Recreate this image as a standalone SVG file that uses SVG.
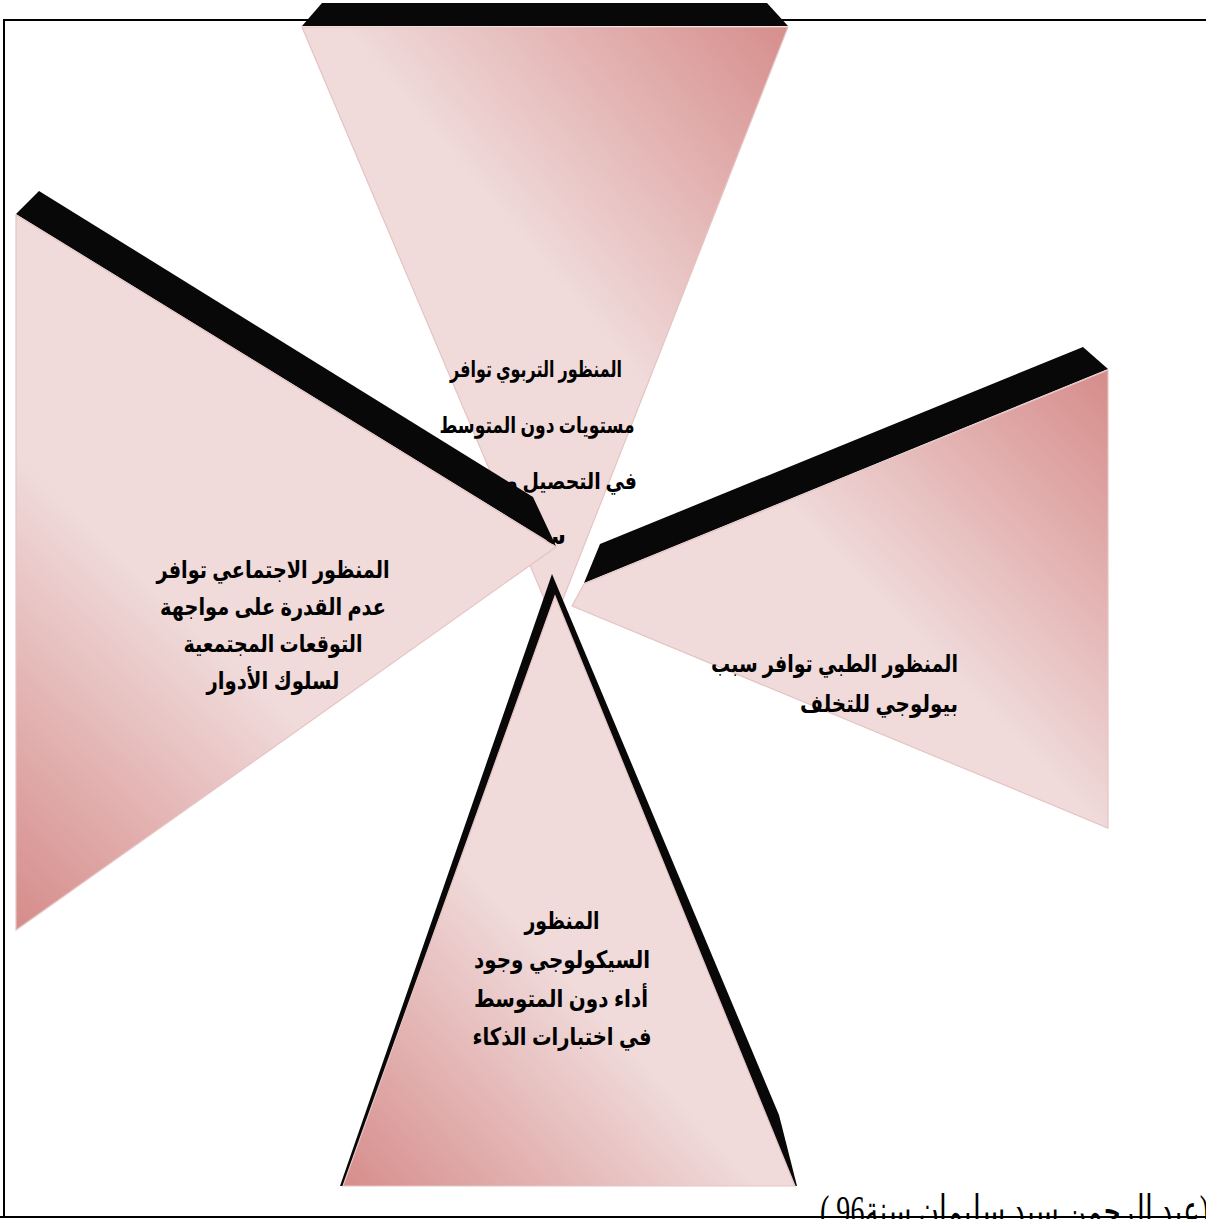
<svg xmlns="http://www.w3.org/2000/svg" width="1206" height="1219" viewBox="0 0 1206 1219">
<style>
.bar{fill:#080808}
.pk{stroke:#e6c3c3;stroke-width:1.2}
.t{font-family:"Liberation Sans","DejaVu Sans",sans-serif;font-weight:bold;font-size:24px;fill:#000}
.ts{font-family:"Liberation Serif","DejaVu Sans",serif;font-weight:bold;font-size:23px;fill:#000}
.cap{font-family:"Liberation Serif","DejaVu Sans",serif;font-size:44px;fill:#000}
</style>
<defs>
<linearGradient id="gTop" gradientUnits="userSpaceOnUse" x1="540" y1="260" x2="800" y2="40">
<stop offset="0" stop-color="#f0dada"/><stop offset="1" stop-color="#d68e8c"/>
</linearGradient>
<linearGradient id="gLeft" gradientUnits="userSpaceOnUse" x1="20" y1="920" x2="250" y2="680">
<stop offset="0" stop-color="#d68e8c"/><stop offset="1" stop-color="#f0dada"/>
</linearGradient>
<linearGradient id="gRight" gradientUnits="userSpaceOnUse" x1="1105" y1="380" x2="880" y2="600">
<stop offset="0" stop-color="#d68e8c"/><stop offset="1" stop-color="#f0dada"/>
</linearGradient>
<linearGradient id="gBottom" gradientUnits="userSpaceOnUse" x1="345" y1="1185" x2="570" y2="980">
<stop offset="0" stop-color="#d68e8c"/><stop offset="1" stop-color="#f0dada"/>
</linearGradient>
</defs>
<rect id="frame" x="4" y="20" width="1212" height="1197" fill="none" stroke="#000" stroke-width="2"/>
<g id="connectors"/>
<g id="node-top">
<polygon class="bar" points="302,26 322,3 767,3 788,26"/>
<polygon class="pk" fill="url(#gTop)" points="302,27 788,27 554,622"/>
<text class="ts" x="536" y="377" text-anchor="middle" textLength="172" lengthAdjust="spacingAndGlyphs">المنظور التربوي توافر</text>
<text class="ts" x="537" y="433" text-anchor="middle" textLength="195" lengthAdjust="spacingAndGlyphs">مستويات دون المتوسط</text>
<text class="ts" x="637" y="489" text-anchor="end" textLength="145" lengthAdjust="spacingAndGlyphs">في التحصيل وم</text>
<text class="ts" x="566" y="544" text-anchor="end">س</text>
</g>
<g id="node-left">
<polygon class="bar" points="16,214 39,191 533,497 556,546"/>
<polygon class="pk" fill="url(#gLeft)" points="16,215 556,547 16,930"/>
<text class="t" x="273" y="578" text-anchor="middle" textLength="233" lengthAdjust="spacingAndGlyphs">المنظور الاجتماعي توافر</text>
<text class="t" x="273" y="615" text-anchor="middle" textLength="226" lengthAdjust="spacingAndGlyphs">عدم القدرة على مواجهة</text>
<text class="t" x="273" y="652" text-anchor="middle" textLength="179" lengthAdjust="spacingAndGlyphs">التوقعات المجتمعية</text>
<text class="t" x="273" y="689" text-anchor="middle" textLength="133" lengthAdjust="spacingAndGlyphs">لسلوك الأدوار</text>
</g>
<g id="node-right">
<polygon class="bar" points="1108,369 1083,347 600,544 584,583"/>
<polygon class="pk" fill="url(#gRight)" points="584,584 1108,370 1108,828 572,606"/>
<text class="t" x="958" y="672" text-anchor="end" textLength="247" lengthAdjust="spacingAndGlyphs">المنظور الطبي توافر سبب</text>
<text class="t" x="958" y="712" text-anchor="end" textLength="158" lengthAdjust="spacingAndGlyphs">بيولوجي للتخلف</text>
</g>
<g id="node-bottom">
<polygon class="bar" points="552,574 779,1115 797,1186 340,1186"/>
<polygon class="pk" fill="url(#gBottom)" points="555,596 795,1186 343,1186"/>
<text class="t" x="562" y="929" text-anchor="middle" textLength="75" lengthAdjust="spacingAndGlyphs">المنظور</text>
<text class="t" x="562" y="968" text-anchor="middle" textLength="176" lengthAdjust="spacingAndGlyphs">السيكولوجي وجود</text>
<text class="t" x="561" y="1007" text-anchor="middle" textLength="174" lengthAdjust="spacingAndGlyphs">أداء دون المتوسط</text>
<text class="t" x="562" y="1045" text-anchor="middle" textLength="179" lengthAdjust="spacingAndGlyphs">في اختبارات الذكاء</text>
</g>
<g id="caption">
<text class="cap" x="1209" y="1226" direction="rtl" text-anchor="start" textLength="389" lengthAdjust="spacingAndGlyphs">(عبد الرحمن سيد سليمان سنة96 )</text>
<line x1="0" y1="1217" x2="1206" y2="1217" stroke="#000" stroke-width="2"/>
</g>
</svg>
